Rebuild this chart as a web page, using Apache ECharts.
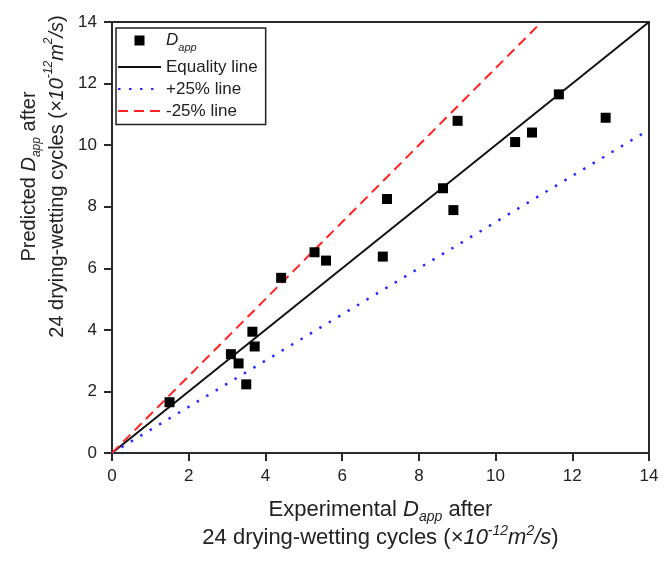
<!DOCTYPE html>
<html>
<head>
<meta charset="utf-8">
<script src="https://cdn.jsdelivr.net/npm/echarts@6/dist/echarts.min.js"></script>
<style>
html,body{margin:0;padding:0;background:#fff;}
#chart{width:672px;height:569px;}
</style>
</head>
<body>
<div id="chart"></div>
<script>
// Experimental D_app (x) vs predicted D_app (y), ×10^-12 m²/s
var expX  = [1.50, 3.10, 3.30, 3.50, 3.66, 3.72, 4.41, 5.28, 5.58, 7.06, 7.17, 8.63, 8.90, 9.01, 10.51, 10.95, 11.65, 12.87];
var predY = [1.65, 3.21, 2.91, 2.23, 3.94, 3.46, 5.69, 6.52, 6.25, 6.38, 8.25, 8.60, 7.89, 10.79, 10.10, 10.41, 11.65, 10.89];
// reference lines (endpoints)
var equalityLine = [[0, 0], [14, 14]];
var plus25Line   = [[0, 0], [14, 10.5]];
var minus25Line  = [[0, 0], [11.2, 14]];
var tickValues = [0, 2, 4, 6, 8, 10, 12, 14];
var seriesNames = ['Dapp', 'Equality line', '+25% line', '-25% line'];

var FONT = '"Liberation Sans", Arial, sans-serif';
var TXT = '#222';

var scatterData = expX.map(function (x, i) { return [x, predY[i]]; });

function titleRich(fs) {
  var s = Math.round(fs * 0.62);
  return {
    n:   { fontFamily: FONT, fontSize: fs, color: TXT, lineHeight: 28 },
    i:   { fontFamily: FONT, fontSize: fs, color: TXT, fontStyle: 'italic', lineHeight: 28 },
    sub: { fontFamily: FONT, fontSize: s, color: TXT, fontStyle: 'italic', verticalAlign: 'bottom', lineHeight: 14 },
    sup: { fontFamily: FONT, fontSize: s, color: TXT, fontStyle: 'italic', verticalAlign: 'top', lineHeight: 14 }
  };
}

var line2 = '{n|24 drying-wetting cycles (}{i|×10}{sup|-12}{i|m}{sup|2}{i|/s}{n|)}';

var axisCommon = {
  type: 'value',
  min: 0, max: 14, interval: 2,
  axisLine: { show: true, onZero: false, lineStyle: { color: '#2a2a2a', width: 2 } },
  axisTick: { show: true, inside: false, length: 8, lineStyle: { color: '#2a2a2a', width: 2 } },
  splitLine: { show: false },
  nameLocation: 'middle'
};

var chart = echarts.init(document.getElementById('chart'), null, { renderer: 'canvas' });

var hideSym = { opacity: 0 };
// legend icon: a 10x10 square centred in a 43x10 box
var squareIcon = 'path://M0,5L43,5M16.5,0L26.5,0L26.5,10L16.5,10Z';

var option = {
  backgroundColor: '#fff',
  animation: false,
  grid: {
    left: 112, right: 23, top: 22, bottom: 116,
    show: true, borderColor: '#2a2a2a', borderWidth: 2, backgroundColor: 'transparent'
  },
  xAxis: Object.assign({}, axisCommon, {
    axisLabel: { margin: 15, fontFamily: FONT, fontSize: 17, color: TXT,
      formatter: function (v) { return tickValues.indexOf(v) >= 0 ? String(v) : ''; } },
    name: '{n|Experimental }{i|D}{sub|app}{n| after}\n' + line2,
    nameGap: 43,
    nameTextStyle: { align: 'center', rich: titleRich(22) }
  }),
  yAxis: Object.assign({}, axisCommon, {
    axisLabel: { margin: 15, fontFamily: FONT, fontSize: 17, color: TXT,
      formatter: function (v) { return tickValues.indexOf(v) >= 0 ? String(v) : ''; } },
    name: '{n|Predicted }{i|D}{sub|app}{n| after}\n' + line2,
    nameRotate: 90,
    nameGap: 41,
    nameTextStyle: { align: 'center', padding: [0, 0, 0, 122], rich: titleRich(20) }
  }),
  legend: {
    orient: 'vertical',
    left: 116, top: 28,
    itemWidth: 43, itemHeight: 10, itemGap: 5,
    padding: [4, 8, 5, 1],
    backgroundColor: '#fff',
    borderColor: '#222', borderWidth: 1.5,
    data: [
      { name: seriesNames[0], icon: squareIcon, itemStyle: { color: '#000', borderWidth: 0 } },
      { name: seriesNames[1], itemStyle: hideSym },
      { name: seriesNames[2], itemStyle: hideSym },
      { name: seriesNames[3], itemStyle: hideSym }
    ],
    formatter: function (name) {
      if (name === 'Dapp') return '{i|D}{sub|app}';
      return '{n|' + name + '}';
    },
    textStyle: {
      fontFamily: FONT, fontSize: 17, color: TXT,
      rich: {
        n: { fontFamily: FONT, fontSize: 17, color: TXT, lineHeight: 20 },
        i: { fontFamily: FONT, fontSize: 17, color: TXT, fontStyle: 'italic', lineHeight: 26 },
        sub: { fontFamily: FONT, fontSize: 11, color: TXT, fontStyle: 'italic', verticalAlign: 'bottom', lineHeight: 12 }
      }
    }
  },
  series: [
    {
      name: seriesNames[1], type: 'line', data: equalityLine, showSymbol: false, symbol: 'none',
      itemStyle: { color: '#111' },
      lineStyle: { color: '#111', width: 2 }, z: 2, silent: true
    },
    {
      name: seriesNames[2], type: 'line', data: plus25Line, showSymbol: false, symbol: 'none',
      itemStyle: { color: '#2a2aff' },
      lineStyle: { color: '#2a2aff', width: 2.5, type: [2.5, 8.5] }, z: 2, silent: true
    },
    {
      name: seriesNames[3], type: 'line', data: minus25Line, showSymbol: false, symbol: 'none',
      itemStyle: { color: '#ff2222' },
      lineStyle: { color: '#ff2222', width: 2, type: [10, 6] }, z: 2, silent: true
    },
    {
      name: seriesNames[0], type: 'scatter', data: scatterData,
      symbol: 'rect', symbolSize: 10,
      itemStyle: { color: '#000', opacity: 1 }, z: 5
    }
  ]
};
chart.setOption(option);
</script>
</body>
</html>
